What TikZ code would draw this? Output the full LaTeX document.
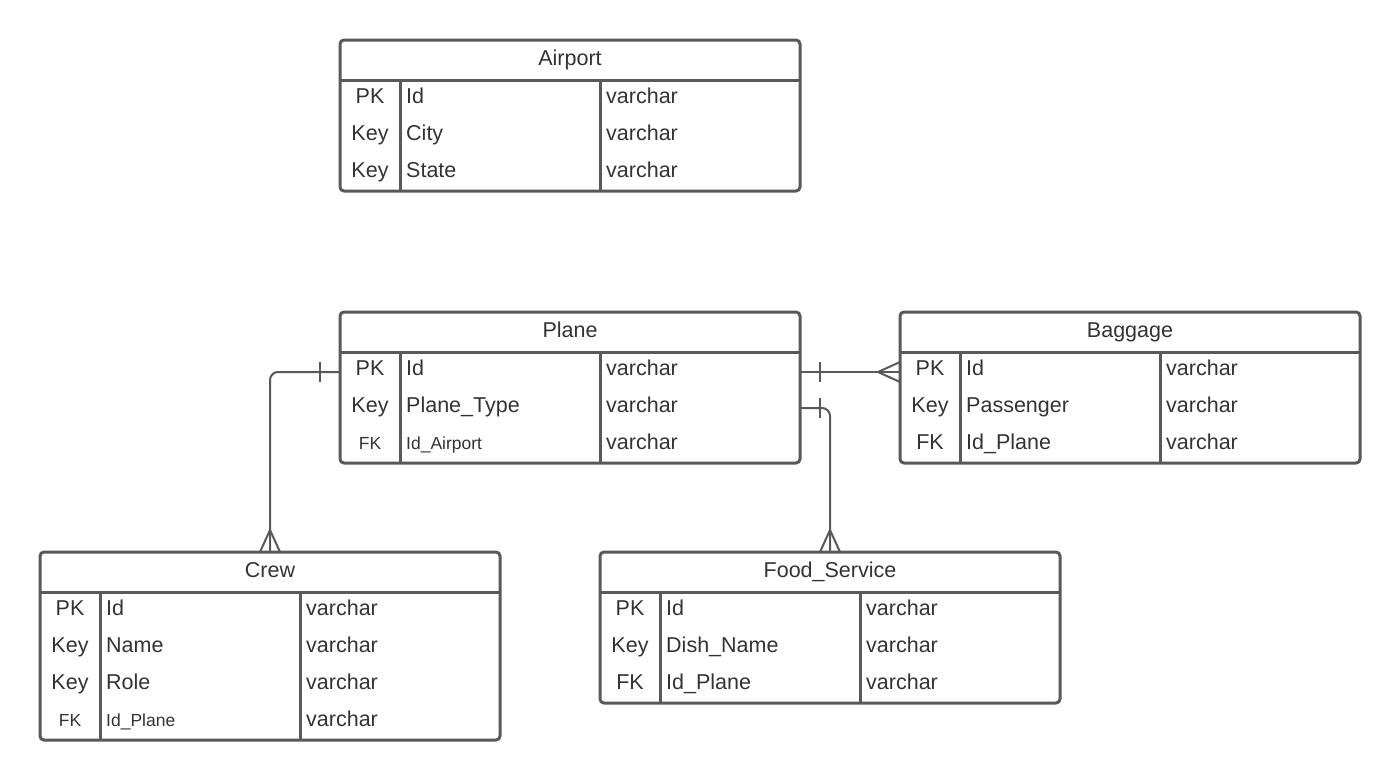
\documentclass[tikz,border=0pt]{standalone}
\usepackage{fontspec}
\setmainfont{Liberation Sans}
\usetikzlibrary{calc}
\definecolor{erline}{HTML}{595959}
\definecolor{ertext}{HTML}{333333}
\tikzset{
  entitybox/.style={draw=erline, line width=3pt, rounded corners=4pt, minimum width=460pt,
    anchor=north west, inner sep=0pt, outer sep=0pt},
  divider/.style={draw=erline, line width=3pt},
  tabletitle/.style={text=ertext, font=\fontsize{21.5}{25}\selectfont, inner sep=0pt, anchor=base},
  tablecell/.style={text=ertext, font=\fontsize{21.5}{25}\selectfont, inner sep=0pt},
  link/.style={draw=erline, line width=2pt, rounded corners=8pt},
  foot/.style={draw=erline, line width=2pt},
}
\newcommand{\fk}{\fontsize{17.5}{20}\selectfont}
% entity: name, left, top, title, number of rows, rows
\newcommand{\entity}[6]{%
  \node[entitybox, minimum height={40pt+37pt*#5}] (#1) at (#2,-#3) {};
  \node[tabletitle] (#1-title) at ($(#1.north)+(0,-25.5)$) {#4};
  \draw[divider] ($(#1.north west)+(0,-40)$) -- ($(#1.north east)+(0,-40)$);
  \draw[divider] ($(#1.north west)+(60,-40)$) -- ($(#1.south west)+(60,0)$);
  \draw[divider] ($(#1.north west)+(260,-40)$) -- ($(#1.south west)+(260,0)$);
  \foreach \k/\n/\t [count=\i] in {#6} {
    \node[tablecell, anchor=base] (#1-key-\i) at ($(#1.north west)+(30,-26.5-37*\i)$) {\k};
    \node[tablecell, anchor=base west] (#1-name-\i) at ($(#1.north west)+(66,-26.5-37*\i)$) {\n};
    \node[tablecell, anchor=base west] (#1-type-\i) at ($(#1.north west)+(266,-26.5-37*\i)$) {\t};
  }
}

\begin{document}
\begin{tikzpicture}[x=1pt, y=1pt]
  \useasboundingbox (0,0) rectangle (1400,-780);

  % tables
  \entity{airport}{340}{40}{Airport}{3}{PK/Id/varchar, Key/City/varchar, Key/State/varchar}
  \entity{plane}{340}{312}{Plane}{3}{PK/Id/varchar, Key/Plane\_Type/varchar, {\fk FK}/{\fk Id\_Airport}/varchar}
  \entity{baggage}{900}{312}{Baggage}{3}{PK/Id/varchar, Key/Passenger/varchar, FK/Id\_Plane/varchar}
  \entity{crew}{40}{552}{Crew}{4}{PK/Id/varchar, Key/Name/varchar, Key/Role/varchar, {\fk FK}/{\fk Id\_Plane}/varchar}
  \entity{food}{600}{552}{Food\_Service}{3}{PK/Id/varchar, Key/Dish\_Name/varchar, FK/Id\_Plane/varchar}

  % link ends
  \coordinate (plane-pk-w) at ($(plane.north west)+(0,-60)$);
  \coordinate (plane-pk-e) at ($(plane.north east)+(0,-60)$);
  \coordinate (plane-type-e) at ($(plane.north east)+(0,-96)$);
  \coordinate (baggage-in) at (baggage.west |- plane-pk-e);

  % plane -> crew
  \draw[link] (plane-pk-w) -| (crew.north);
  \draw[foot] ($(plane-pk-w)+(-20,10)$) -- ++(0,-20);
  \draw[foot] ($(crew.north)+(-10,0)$) -- ++(10,22) -- ++(10,-22);
  \draw[foot] (crew.north) -- ++(0,22);

  % plane -> baggage
  \draw[link] (plane-pk-e) -- (baggage-in);
  \draw[foot] ($(plane-pk-e)+(20,10)$) -- ++(0,-20);
  \draw[foot] ($(baggage-in)+(0,10)$) -- ++(-22,-10) -- ++(22,-10);

  % plane -> food service
  \draw[link] (plane-type-e) -| (food.north);
  \draw[foot] ($(plane-type-e)+(20,10)$) -- ++(0,-20);
  \draw[foot] ($(food.north)+(-10,0)$) -- ++(10,22) -- ++(10,-22);
  \draw[foot] (food.north) -- ++(0,22);
\end{tikzpicture}
\end{document}
